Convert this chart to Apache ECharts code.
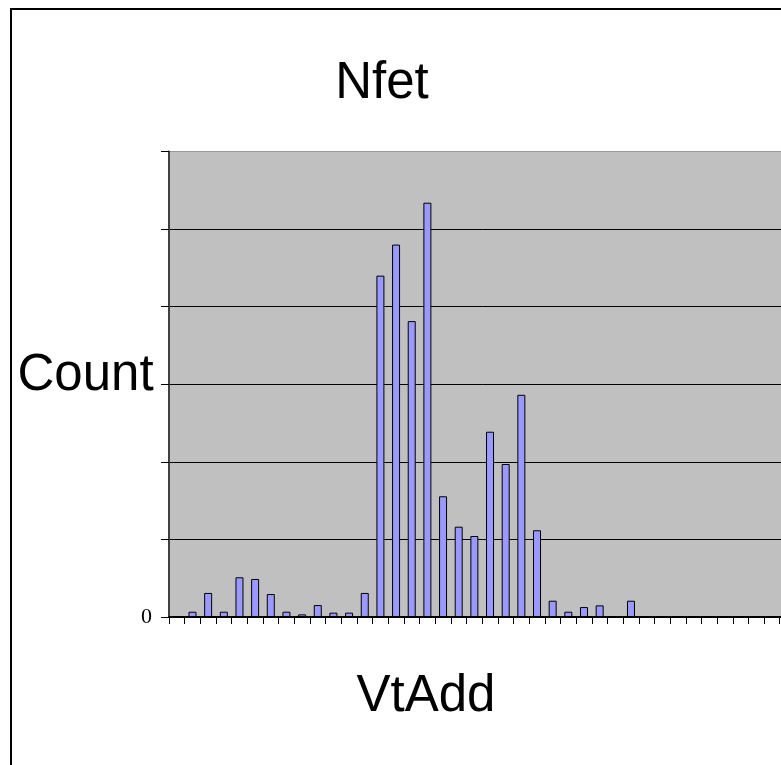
<!DOCTYPE html>
<html>
<head>
<meta charset="utf-8">
<script src="https://cdn.jsdelivr.net/npm/echarts@6/dist/echarts.min.js"></script>
<style>
html,body{margin:0;padding:0;overflow:hidden;background:#fff;}
#chart{width:840px;height:765px;}
</style>
</head>
<body>
<div id="chart"></div>
<script>
// Bins of VtAdd (tick labels not shown in the reference)
const categories = ['1','2','3','4','5','6','7','8','9','10','11','12','13','14','15','16','17','18','19','20',
                    '21','22','23','24','25','26','27','28','29','30','31','32','33','34','35','36','37','38','39','40'];
// Count per bin
const counts = [0, 3.4, 15.5, 3.4, 25.6, 24.5, 14.8, 3.4, 1.7, 7.7, 2.8, 2.8, 15.5, 220, 240, 190.7, 267, 77.8, 58.2, 52.2,
                119.4, 98.6, 143.2, 55.9, 10.5, 3.4, 6.4, 7.5, 0, 10.5, 0, 0, 0, 0, 0, 0, 0, 0, 0, 0];
const yTicks = [0, 50, 100, 150, 200, 250, 300];
const titleText = 'Nfet';
const xName = 'VtAdd';
const yName = 'Count';

const chart = echarts.init(document.getElementById('chart'), null, {renderer: 'canvas'});
const sans = '"Liberation Sans", Arial, sans-serif';
chart.setOption({
  animation: false,
  backgroundColor: '#ffffff',
  grid: {
    left: 169, top: 151.5, width: 626.4, height: 465.5,
    show: true, backgroundColor: '#C0C0C0', borderWidth: 0
  },
  xAxis: {
    type: 'category',
    data: categories,
    boundaryGap: true,
    axisLine: {show: true, lineStyle: {color: '#000', width: 2}},
    axisTick: {show: true, interval: 0, length: 7, alignWithLabel: false, lineStyle: {color: '#000', width: 1}},
    axisLabel: {show: false},
    splitLine: {show: false}
  },
  yAxis: {
    type: 'value',
    min: yTicks[0], max: yTicks[yTicks.length - 1], interval: yTicks[1] - yTicks[0],
    axisLine: {show: true, lineStyle: {color: '#404040', width: 2}},
    axisTick: {show: true, length: 8, lineStyle: {color: '#000', width: 1}},
    axisLabel: {
      show: true, margin: 17, color: '#000',
      fontFamily: 'Liberation Serif', fontSize: 22,
      formatter: v => (v === 0 ? '0' : '')
    },
    splitLine: {show: true, lineStyle: {color: ['#000','#000','#000','#000','#000','#000','#999'], width: 1}}
  },
  series: [{
    type: 'bar',
    data: counts,
    barWidth: 8,
    itemStyle: {color: '#9999FF', borderColor: '#000', borderWidth: 1}
  }],
  graphic: [
    {type: 'rect', shape: {x: 11, y: 9, width: 900, height: 900},
     style: {fill: 'none', stroke: '#000', lineWidth: 2}, z: 10},
    {type: 'text', x: 382, y: 84,
     style: {text: titleText, font: '51px ' + sans, fill: '#000', textAlign: 'center', textVerticalAlign: 'middle'}},
    {type: 'text', x: 426, y: 697,
     style: {text: xName, font: '51px ' + sans, fill: '#000', textAlign: 'center', textVerticalAlign: 'middle'}},
    {type: 'text', x: 85.5, y: 376,
     style: {text: yName, font: '51px ' + sans, fill: '#000', textAlign: 'center', textVerticalAlign: 'middle'}}
  ]
});
</script>
</body>
</html>
